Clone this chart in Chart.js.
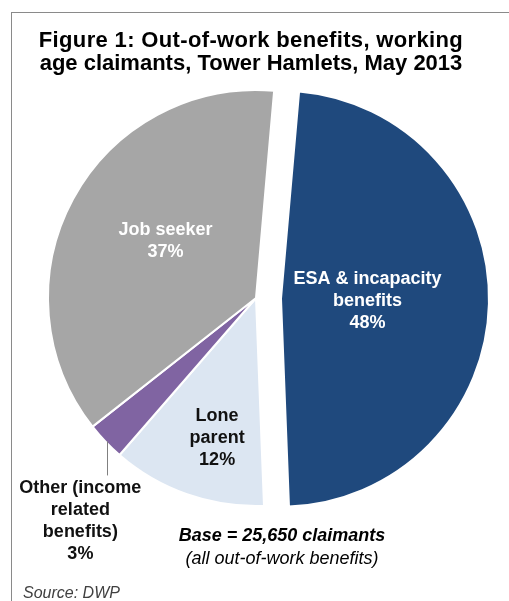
<!DOCTYPE html>
<html>
<head>
<meta charset="utf-8">
<script src="https://cdn.jsdelivr.net/npm/chart.js@4.4.1/dist/chart.umd.min.js"></script>
<style>
  html, body { margin: 0; padding: 0; background: #ffffff; }
  #wrap { position: relative; width: 509px; height: 601px; overflow: hidden; font-family: "Liberation Sans", Arial, sans-serif; }
  #frame { position: absolute; left: 11px; top: 12px; width: 700px; height: 800px; border-left: 1px solid #8a8a8a; border-top: 1px solid #8a8a8a; }
  #chartbox { position: absolute; left: 0; top: 0; width: 509px; height: 601px; }
  .title { position: absolute; left: 0; top: 28px; width: 502px; text-align: center; font-weight: bold; font-size: 22px; line-height: 23px; color: #000; }
  .title .l1 { letter-spacing: 0.35px; }
  .base { position: absolute; left: 132px; top: 524px; width: 300px; text-align: center; font-size: 18px; line-height: 23px; color: #000; font-style: italic; }
  .base b { font-weight: bold; }
  .source { position: absolute; left: 23px; top: 584px; font-size: 16px; line-height: 18px; font-style: italic; color: #404040; }
</style>
</head>
<body>
<div id="wrap">
  <div id="frame"></div>
  <div id="chartbox"><canvas id="c"></canvas></div>
  <div class="title"><span class="l1">Figure 1: Out-of-work benefits, working</span><br>age claimants, Tower Hamlets, May 2013</div>
  <div class="base"><b>Base = 25,650 claimants</b><br>(all out-of-work benefits)</div>
  <div class="source">Source: DWP</div>
</div>
<script>
// ---- data ----
const categories = ['ESA & incapacity benefits', 'Lone parent', 'Other (income related benefits)', 'Job seeker'];
const shares = [48, 12, 3, 37];
const labelLines = [['ESA & incapacity', 'benefits'], ['Lone', 'parent'], ['Other (income', 'related', 'benefits)'], ['Job seeker']];

// ---- styling / layout ----
const sliceColors = ['#1F497D', '#DCE6F2', '#8064A2', '#A6A6A6'];
const textColors = ['#ffffff', '#111111', '#111111', '#ffffff'];
const explode = [25, 0, 0, 0];
// r: fraction of radius along the slice mid-angle; dx/dy nudges; leader: draw outside with leader line
const placement = [
  { r: 0.416, dx: 0, dy: 0 },
  { r: 0.693, dx: 9, dy: 4 },
  { leader: true, lineLen: 34, tx: -27, ty: 47, lx: 2 },
  { r: 0.517, dx: 4, dy: -6 }
];

const slicePlugin = {
  id: 'sliceLabels',
  afterDatasetUpdate(chart, args) {
    const meta = args.meta;
    meta.data.forEach((arc, i) => {
      const d = explode[i];
      if (!d) return;
      const mid = (arc.startAngle + arc.endAngle) / 2;
      arc.x += Math.cos(mid) * d;
      arc.y += Math.sin(mid) * d;
    });
  },
  afterDatasetsDraw(chart) {
    const ctx = chart.ctx;
    const meta = chart.getDatasetMeta(0);
    ctx.save();
    ctx.font = 'bold 18px "Liberation Sans", Arial, sans-serif';
    ctx.textAlign = 'center';
    ctx.textBaseline = 'middle';
    const lh = 22;
    meta.data.forEach((arc, i) => {
      const p = placement[i];
      const mid = (arc.startAngle + arc.endAngle) / 2;
      const R = arc.outerRadius;
      const lines = labelLines[i].concat([shares[i] + '%']);
      let ax, ay;
      if (p.leader) {
        const ex = arc.x + Math.cos(mid) * R + p.lx;
        const ey = arc.y + Math.sin(mid) * R;
        ctx.strokeStyle = '#808080';
        ctx.lineWidth = 1;
        ctx.beginPath();
        ctx.moveTo(Math.round(ex) + 0.5, ey);
        ctx.lineTo(Math.round(ex) + 0.5, ey + p.lineLen);
        ctx.stroke();
        ax = ex + p.tx;
        ay = ey + p.ty;
        ctx.fillStyle = textColors[i];
        lines.forEach((t, k) => ctx.fillText(t, ax, ay + k * lh));
      } else {
        ax = arc.x + Math.cos(mid) * R * p.r + p.dx;
        ay = arc.y + Math.sin(mid) * R * p.r + p.dy;
        const top = ay - (lines.length - 1) * lh / 2;
        ctx.fillStyle = textColors[i];
        lines.forEach((t, k) => ctx.fillText(t, ax, top + k * lh));
      }
    });
    ctx.restore();
  }
};

new Chart(document.getElementById('c'), {
  type: 'pie',
  data: {
    labels: categories,
    datasets: [{
      data: shares,
      backgroundColor: sliceColors,
      borderColor: '#ffffff',
      borderWidth: 2,
      radius: 208
    }]
  },
  options: {
    responsive: true,
    maintainAspectRatio: false,
    animation: false,
    events: [],
    rotation: 5,
    radius: 208,
    layout: { padding: { left: 3, right: 0, top: 0, bottom: 5 } },
    plugins: {
      legend: { display: false },
      title: { display: false },
      tooltip: { enabled: false }
    }
  },
  plugins: [slicePlugin]
});
</script>
</body>
</html>
